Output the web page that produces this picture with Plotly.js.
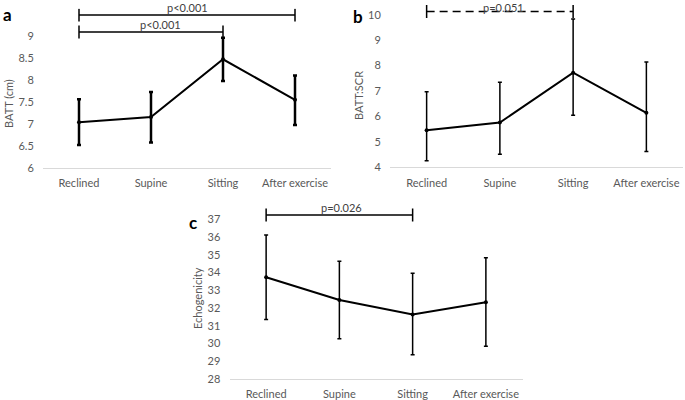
<!DOCTYPE html>
<html>
<head>
<meta charset="utf-8">
<script src="https://cdn.plot.ly/plotly-3.0.1.min.js"></script>
<style>
  html, body { margin: 0; padding: 0; background: #fff; }
  #chart { width: 685px; height: 400px; }
</style>
</head>
<body>
<div id="chart"></div>
<script>
// categories shared by all three panels
const positions = ['Reclined', 'Supine', 'Sitting', 'After exercise'];

// a: BATT (cm)
const battMean = [7.04, 7.16, 8.47, 7.55];
const battHigh = [7.56, 7.73, 8.96, 8.10];
const battLow = [6.52, 6.58, 7.98, 6.98];
const battTicks = [6, 6.5, 7, 7.5, 8, 8.5, 9];

// b: BATT:SCR
const ratioMean = [5.46, 5.76, 7.72, 6.14];
const ratioHigh = [6.97, 7.34, 9.83, 8.14];
const ratioLow = [4.26, 4.51, 6.05, 4.62];
const ratioTicks = [4, 5, 6, 7, 8, 9, 10];

// c: Echogenicity
const echoMean = [33.73, 32.45, 31.64, 32.32];
const echoHigh = [36.12, 34.63, 33.96, 34.84];
const echoLow = [31.36, 30.27, 29.37, 29.84];
const echoTicks = [28, 29, 30, 31, 32, 33, 34, 35, 36, 37];

// significance brackets: [from, to, level, label]
const bracketsA = [
    ['Reclined', 'After exercise', 9.48, 'p<0.001'],
    ['Reclined', 'Sitting', 9.09, 'p<0.001']
];
const bracketsB = [['Reclined', 'Sitting', 10.13, 'p=0.051']];
const bracketsC = [['Reclined', 'Sitting', 37.24, 'p=0.026']];

const FONT = 'Lato, "Open Sans", sans-serif';
const W = 685, H = 400;

const panels = [
    { mean: battMean, high: battHigh, low: battLow, ticks: battTicks, brackets: bracketsA, dash: 'solid',
      x: [43, 331], yPix: [168, 36], yVals: [6, 9], range: [6, 9.62],
      title: 'BATT (cm)', titleX: 8, titleY: 104, letter: 'a', letterX: 1, letterY: 14,
      lineW: 2, errW: 2.5, textShift: [[0, 0], [9, 0]] },
    { mean: ratioMean, high: ratioHigh, low: ratioLow, ticks: ratioTicks, brackets: bracketsB, dash: '8px,5px',
      x: [390, 683], yPix: [167.3, 14.7], yVals: [4, 10], range: [4, 10.5],
      title: 'BATT:SCR', titleX: 358, titleY: 96, letter: 'b', letterX: 351, letterY: 16,
      lineW: 2, errW: 1.5, textShift: [[4, 4]] },
    { mean: echoMean, high: echoHigh, low: echoLow, ticks: echoTicks, brackets: bracketsC, dash: 'solid',
      x: [229.5, 522.5], yPix: [379, 219.3], yVals: [28, 37], range: [28, 37.7],
      title: 'Echogenicity', titleX: 197, titleY: 298, letter: 'c', letterX: 187, letterY: 222,
      lineW: 2, errW: 1.5, textShift: [[2, 0]] }
];

const data = [];
const layout = {
    width: W, height: H,
    margin: { l: 0, r: 0, t: 0, b: 0 },
    paper_bgcolor: '#fff', plot_bgcolor: '#fff',
    showlegend: false,
    font: { family: FONT, size: 11, color: '#595959' },
    shapes: [], annotations: []
};

panels.forEach((p, i) => {
    const xa = i === 0 ? 'x' : 'x' + (i + 1);
    const ya = i === 0 ? 'y' : 'y' + (i + 1);
    const pxPerUnit = (p.yPix[0] - p.yPix[1]) / (p.yVals[1] - p.yVals[0]);
    const topPix = p.yPix[0] - (p.range[1] - p.range[0]) * pxPerUnit;

    data.push({
        x: positions, y: p.mean, xaxis: xa, yaxis: ya,
        type: 'scatter', mode: 'lines+markers',
        line: { color: '#000', width: p.lineW },
        marker: { color: '#000', size: 4 },
        error_y: {
            type: 'data', symmetric: false,
            array: p.high.map((v, k) => v - p.mean[k]),
            arrayminus: p.mean.map((v, k) => v - p.low[k]),
            color: '#000', thickness: p.errW, width: 2
        },
        hoverinfo: 'x+y'
    });

    layout['xaxis' + (i === 0 ? '' : i + 1)] = {
        domain: [p.x[0] / W, p.x[1] / W], anchor: ya,
        type: 'category', range: [-0.5, 3.5],
        showline: true, linecolor: '#d9d9d9', linewidth: 1,
        showgrid: false, zeroline: false,
        ticks: 'outside', ticklen: 5, tickcolor: 'rgba(0,0,0,0)',
        tickfont: { family: FONT, size: 11, color: '#595959' }
    };
    layout['yaxis' + (i === 0 ? '' : i + 1)] = {
        domain: [1 - p.yPix[0] / H, 1 - topPix / H], anchor: xa,
        range: p.range, tickmode: 'array', tickvals: p.ticks,
        showline: false, showgrid: false, zeroline: false,
        ticks: 'outside', ticklen: 6, tickcolor: 'rgba(0,0,0,0)',
        tickfont: { family: FONT, size: 11, color: '#595959' }
    };

    p.brackets.forEach((b, k) => {
        const i0 = positions.indexOf(b[0]);
        const i1 = positions.indexOf(b[1]);
        const ln = { color: '#000', width: 1.5, dash: p.dash };
        layout.shapes.push({ type: 'line', xref: xa, yref: ya, x0: i0, x1: i1, y0: b[2], y1: b[2], line: ln });
        [i0, i1].forEach(ix => {
            layout.shapes.push({
                type: 'line', xref: xa, yref: ya, x0: ix, x1: ix,
                ysizemode: 'pixel', yanchor: b[2], y0: -6.5, y1: 6.5,
                line: { color: '#000', width: 1.5 }
            });
        });
        const sh = p.textShift[k] || [0, 0];
        layout.annotations.push({
            xref: xa, yref: ya, x: (i0 + i1) / 2, y: b[2], text: b[3],
            showarrow: false, yanchor: 'bottom', xshift: sh[0], yshift: -sh[1] - 1,
            font: { family: FONT, size: 11, color: '#404040' }
        });
    });

    layout.annotations.push({
        xref: 'paper', yref: 'paper', x: p.titleX / W, y: 1 - p.titleY / H,
        text: p.title, textangle: -90, showarrow: false,
        xanchor: 'center', yanchor: 'middle',
        font: { family: FONT, size: 11, color: '#595959' }
    });
    layout.annotations.push({
        xref: 'paper', yref: 'paper', x: p.letterX / W, y: 1 - p.letterY / H,
        text: '<b>' + p.letter + '</b>', showarrow: false,
        xanchor: 'left', yanchor: 'middle',
        font: { family: FONT, size: 17, color: '#000' }
    });
});

Plotly.newPlot('chart', data, layout, { displayModeBar: false, staticPlot: true });
</script>
</body>
</html>
